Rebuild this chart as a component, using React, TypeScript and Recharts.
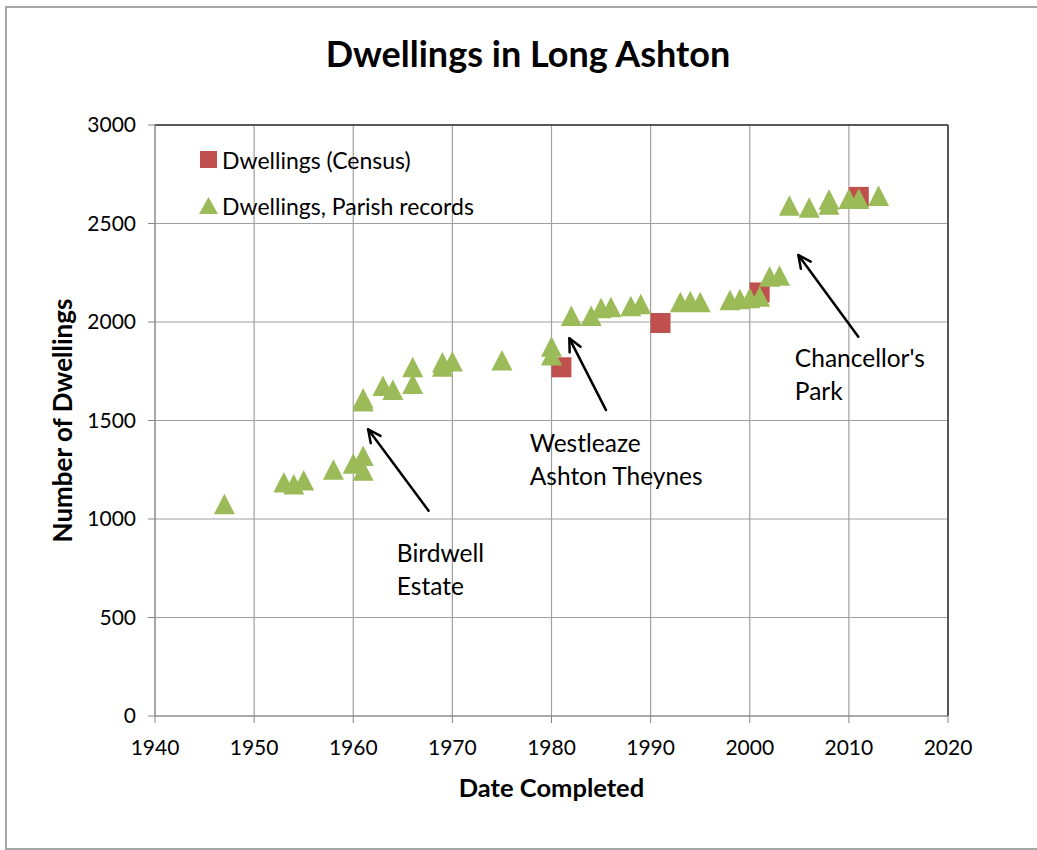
import React from "react";
import {
  ScatterChart,
  Scatter,
  XAxis,
  YAxis,
  CartesianGrid,
  Legend,
  ReferenceLine,
  ReferenceDot,
} from "recharts";

const CENSUS_COLOR = "#C0504D";
const PARISH_COLOR = "#9BBB59";
const FONT = "Lato, 'Open Sans', sans-serif";

// census counts
const censusYears = [1981, 1991, 2001, 2011];
const censusDwellings = [1770, 1995, 2150, 2635];

// parish records (several completions in some years)
const parishYears = [
  1947, 1953, 1954, 1955, 1958, 1960, 1961, 1961, 1961, 1961, 1963, 1964, 1966, 1966, 1969, 1969,
  1970, 1975, 1980, 1980, 1982, 1984, 1985, 1986, 1988, 1989, 1993, 1994, 1995, 1998, 1999, 2000,
  2001, 2002, 2003, 2004, 2006, 2008, 2008, 2010, 2011, 2013,
];
const parishDwellings = [
  1075, 1185, 1175, 1195, 1250, 1280, 1320, 1245, 1612, 1596, 1675, 1655, 1770, 1685, 1795, 1773,
  1800, 1805, 1875, 1830, 2030, 2030, 2070, 2075, 2080, 2090, 2100, 2105, 2100, 2110, 2115, 2120,
  2128, 2230, 2235, 2590, 2580, 2620, 2595, 2625, 2625, 2640,
];

const xTicks = [1940, 1950, 1960, 1970, 1980, 1990, 2000, 2010, 2020];
const yTicks = [0, 500, 1000, 1500, 2000, 2500, 3000];

// annotation arrows: tail -> tip, in data units
const arrowTails = [
  { x: 1967.6, y: 1042 },
  { x: 1985.5, y: 1553 },
  { x: 2010.95, y: 1925 },
];
const arrowTips = [
  { x: 1961.5, y: 1455 },
  { x: 1981.8, y: 1917 },
  { x: 2004.9, y: 2340 },
];
const noteLines = [["Birdwell", "Estate"], ["Westleaze", "Ashton Theynes"], ["Chancellor's", "Park"]];
const notePos = [
  { x: 1964.4, y: 783 },
  { x: 1977.8, y: 1342 },
  { x: 2004.55, y: 1773 },
];

const censusData = censusYears.map((year, i) => ({ year, count: censusDwellings[i] }));
const parishData = parishYears.map((year, i) => ({ year, count: parishDwellings[i] }));

function Square(props: any) {
  const { cx, cy } = props;
  return <rect x={cx - 10} y={cy - 10} width={20} height={20} fill={CENSUS_COLOR} />;
}

function Triangle(props: any) {
  const { cx, cy } = props;
  return (
    <polygon
      points={`${cx},${cy - 10.5} ${cx + 10.5},${cy + 10} ${cx - 10.5},${cy + 10}`}
      fill={PARISH_COLOR}
    />
  );
}

function Arrow(props: any) {
  const { x1, y1, x2, y2 } = props;
  const ang = Math.atan2(y2 - y1, x2 - x1);
  const len = 14;
  const spread = 0.45;
  const a1 = ang + Math.PI - spread;
  const a2 = ang + Math.PI + spread;
  return (
    <g stroke="#000" strokeWidth={2.5} fill="none" strokeLinecap="round" strokeLinejoin="round">
      <line x1={x1} y1={y1} x2={x2} y2={y2} />
      <polyline
        points={`${x2 + len * Math.cos(a1)},${y2 + len * Math.sin(a1)} ${x2},${y2} ${x2 + len * Math.cos(a2)},${y2 + len * Math.sin(a2)}`}
      />
    </g>
  );
}

function noteShape(lines: string[]) {
  return (p: any) => (
    <text x={p.cx} y={p.cy} fontFamily={FONT} fontSize={24.5} fill="#000">
      {lines.map((t, i) => (
        <tspan key={t} x={p.cx} dy={i === 0 ? 0 : 33}>
          {t}
        </tspan>
      ))}
    </text>
  );
}

function LegendBox() {
  return (
    <div style={{ fontFamily: FONT, fontSize: 23, color: "#000", lineHeight: "26px" }}>
      <div style={{ display: "flex", alignItems: "center", height: 24, marginBottom: 22 }}>
        <svg width={20} height={20} style={{ marginRight: 3 }}>
          <rect x={1} y={1} width={17} height={17} fill={CENSUS_COLOR} />
        </svg>
        Dwellings (Census)
      </div>
      <div style={{ display: "flex", alignItems: "center", height: 24 }}>
        <svg width={20} height={20} style={{ marginRight: 3 }}>
          <polygon points="9.5,1 19,18 0,18" fill={PARISH_COLOR} />
        </svg>
        Dwellings, Parish records
      </div>
    </div>
  );
}

export default function App() {
  return (
    <div
      style={{
        position: "absolute",
        left: 0,
        top: 0,
        width: 1037,
        height: 850,
        background: "#fff",
        overflow: "hidden",
      }}
    >
      <div
        style={{
          position: "absolute",
          left: 5,
          top: 6,
          width: 1060,
          height: 840,
          border: "2px solid #a6a6a6",
        }}
      />
      <div
        style={{
          position: "absolute",
          left: 0,
          top: 32,
          width: 1056,
          textAlign: "center",
          fontFamily: FONT,
          fontWeight: 700,
          fontSize: 36,
          lineHeight: "42px",
          color: "#000",
        }}
      >
        Dwellings in Long Ashton
      </div>
      <div style={{ position: "absolute", left: 0, top: 0 }}>
        <ScatterChart width={1037} height={850} margin={{ top: 125, right: 89, bottom: 0, left: 0 }}>
          <CartesianGrid stroke="#a0a0a0" strokeWidth={1.2} />
          <XAxis
            type="number"
            dataKey="year"
            domain={[1940, 2020]}
            ticks={xTicks}
            height={134}
            tickSize={7}
            tickMargin={17}
            stroke="#868686"
            tick={{ fill: "#000", fontSize: 21, fontFamily: FONT }}
            label={{
              content: ({ viewBox }: any) => (
                <text
                  x={viewBox.x + viewBox.width / 2}
                  y={viewBox.y + 71}
                  textAnchor="middle"
                  dominantBaseline="central"
                  fontFamily={FONT}
                  fontWeight={700}
                  fontSize={25.5}
                  fill="#000"
                >
                  Date Completed
                </text>
              ),
            }}
          />
          <YAxis
            type="number"
            dataKey="count"
            domain={[0, 3000]}
            ticks={yTicks}
            width={155}
            tickSize={7}
            tickMargin={12}
            stroke="#868686"
            tick={{ fill: "#000", fontSize: 21, fontFamily: FONT }}
            label={{
              content: ({ viewBox }: any) => {
                const cx = viewBox.x + 62;
                const cy = viewBox.y + viewBox.height / 2;
                return (
                  <text
                    x={cx}
                    y={cy}
                    transform={`rotate(-90 ${cx} ${cy})`}
                    textAnchor="middle"
                    dominantBaseline="central"
                    fontFamily={FONT}
                    fontWeight={700}
                    fontSize={26}
                    fill="#000"
                  >
                    Number of Dwellings
                  </text>
                );
              },
            }}
          />
          <ReferenceLine y={3000} stroke="#333" strokeWidth={1.5} />
          <ReferenceLine x={2020} stroke="#333" strokeWidth={1.5} />
          <Legend
            layout="horizontal"
            verticalAlign="middle"
            align="center"
            wrapperStyle={{ left: 199, top: 148, width: 340 }}
            content={() => <LegendBox />}
          />
          <Scatter
            name="Dwellings (Census)"
            data={censusData}
            shape={Square}
            fill={CENSUS_COLOR}
            isAnimationActive={false}
          />
          <Scatter
            name="Dwellings, Parish records"
            data={parishData}
            shape={Triangle}
            fill={PARISH_COLOR}
            isAnimationActive={false}
          />
          {arrowTails.map((tail, i) => (
            <ReferenceLine key={`arrow-${i}`} segment={[tail, arrowTips[i]]} shape={Arrow} />
          ))}
          {notePos.map((p, i) => (
            <ReferenceDot key={`note-${i}`} x={p.x} y={p.y} r={1} shape={noteShape(noteLines[i])} />
          ))}
        </ScatterChart>
      </div>
    </div>
  );
}
